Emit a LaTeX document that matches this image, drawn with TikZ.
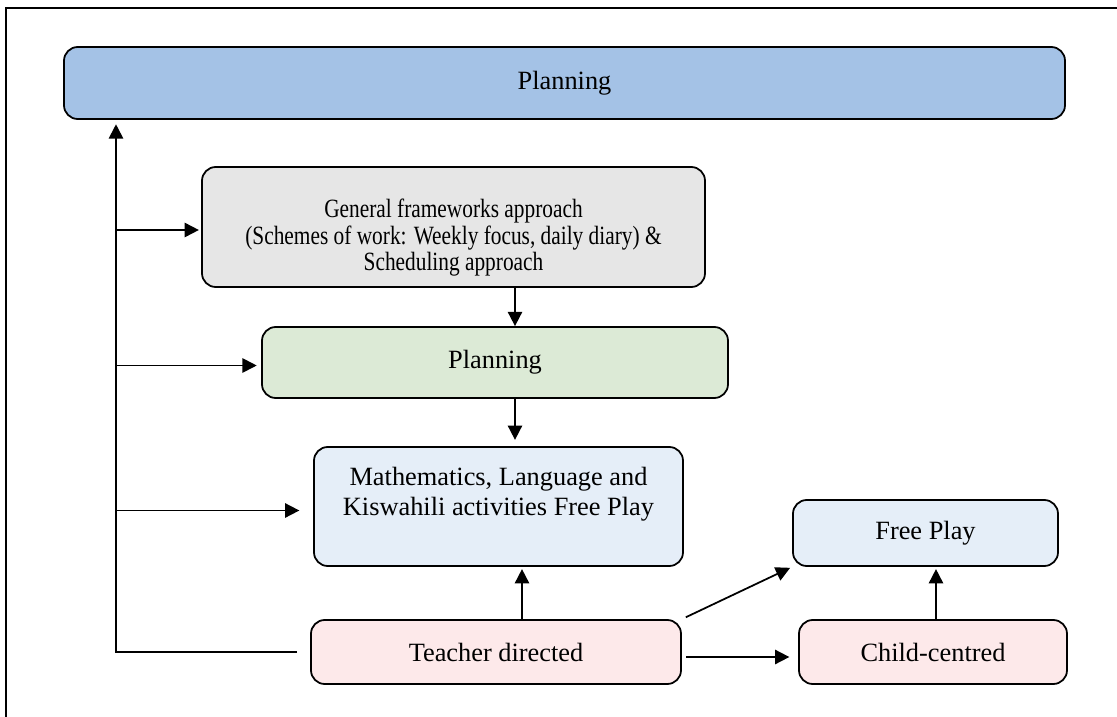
\documentclass[tikz,border=0pt]{standalone}
\usepackage{fontspec}
\setmainfont{Liberation Serif}
\usetikzlibrary{positioning, arrows.meta, calc}
\definecolor{planblue}{HTML}{A4C2E6}
\definecolor{framegray}{HTML}{E6E6E6}
\definecolor{plangreen}{HTML}{DCEAD6}
\definecolor{actblue}{HTML}{E5EEF8}
\definecolor{modepink}{HTML}{FDE9EA}

\begin{document}
\begin{tikzpicture}[
      every node/.style={font=\fontsize{12}{13.8}\selectfont},
      flowbox/.style={draw, line width=0.8pt, rounded corners=0.22cm, fill=#1, align=center, inner sep=0pt},
      link/.style={line width=0.8pt, -{Triangle[length=6.5pt, width=6.5pt]}},
    ]
    \useasboundingbox (0,0) rectangle (17.872,-11.472);
    % page frame (right and bottom edges fall outside)
    \draw[line width=1pt] (0.096,-12) -- (0.096,-0.128) -- (18.5,-0.128);

    \node[flowbox=planblue, minimum width=16.016cm, minimum height=1.152cm] (plan) at (9.032,-1.328)
      {Planning};
    \node[flowbox=framegray, minimum width=8.048cm, minimum height=1.92cm] (frame) at (7.256,-3.632)
      {\scalebox{0.81}[1]{\fontsize{12}{11.8}\selectfont
        \begin{tabular}{@{}c@{}}
          \rule{0pt}{19pt}General frameworks approach\\
          (Schemes of work: Weekly focus, daily diary) \&\\
          Scheduling approach
        \end{tabular}}};
    \node[flowbox=plangreen, minimum width=7.456cm, minimum height=1.136cm] (plantwo) at (7.92,-5.8)
      {Planning};
    \node[flowbox=actblue, minimum width=5.904cm, minimum height=1.904cm] (maths) at (7.976,-8.104)
      {Mathematics, Language and\\Kiswahili activities Free Play\\\mbox{}};
    \node[flowbox=modepink, minimum width=5.92cm, minimum height=1.024cm] (teacher) at (7.936,-10.432)
      {Teacher directed};
    \node[flowbox=actblue, minimum width=4.24cm, minimum height=1.056cm] (free) at (14.808,-8.528)
      {Free Play};
    \node[flowbox=modepink, minimum width=4.288cm, minimum height=1.024cm] (child) at (14.928,-10.432)
      {Child-centred};

    \coordinate (spine) at (1.856,-10.432);
    \coordinate (colA) at (8.24,0);
    \coordinate (colB) at (8.352,0);
    \coordinate (colC) at (14.976,0);

    % feedback line on the left
    \draw[link, shorten >=2pt] ([xshift=-0.208cm]teacher.west) -- (spine) -- (spine |- plan.south);
    \draw[link, shorten >=1pt] ([yshift=-0.048cm]spine |- frame.west) -- ([yshift=-0.048cm]frame.west);
    \draw[link, shorten >=2pt] ([yshift=-0.048cm]spine |- plantwo.west) -- ([yshift=-0.048cm]plantwo.west);
    \draw[link, shorten >=0.22cm] ([yshift=-0.064cm]spine |- maths.west) -- ([yshift=-0.064cm]maths.west);

    % main column
    \draw[link] (frame.south -| colA) -- (plantwo.north -| colA);
    \draw[link, shorten >=0.1cm] (plantwo.south -| colA) -- (maths.north -| colA);
    \draw[link, shorten >=1pt] (teacher.north -| colB) -- (maths.south -| colB);

    % to the right
    \draw[link, shorten <=2pt, shorten >=1pt] (teacher.north east) -- (free.south west);
    \draw[link, shorten <=2pt, shorten >=0.14cm] ([yshift=-0.08cm]teacher.east) -- ([yshift=-0.08cm]child.west);
    \draw[link, shorten >=1pt] (child.north -| colC) -- (free.south -| colC);
\end{tikzpicture}
\end{document}
